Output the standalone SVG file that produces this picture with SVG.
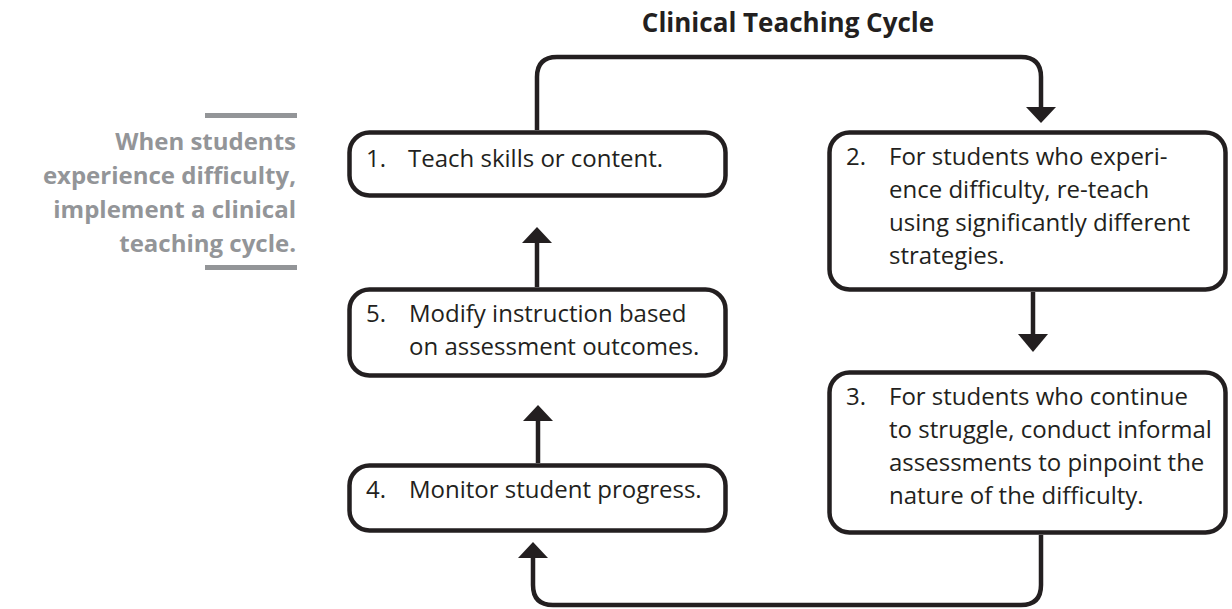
<svg xmlns="http://www.w3.org/2000/svg" width="1232" height="609" viewBox="0 0 1232 609">
<defs>
<style>
.box{fill:#fff;stroke:#231f20;stroke-width:4.5}
.t{font-family:"Open Sans","Noto Sans",sans-serif;font-size:24px;fill:#231f20}
.ttl{font-family:"Open Sans","Noto Sans",sans-serif;font-size:26px;font-weight:bold;fill:#231f20}
.side{font-family:"Open Sans","Noto Sans",sans-serif;font-size:24px;font-weight:bold;fill:#939598;text-anchor:end}
.ln{fill:none;stroke:#231f20;stroke-width:4.5}
.ah{fill:#231f20}
.bar{fill:#939598}
</style>
</defs>
<rect width="1232" height="609" fill="#fff"/>
<text class="ttl" x="788" y="32" text-anchor="middle">Clinical Teaching Cycle</text>
<g id="sidebar">
<rect class="bar" x="205" y="113" width="92" height="5"/>
<text class="side" x="296" y="150">When students</text>
<text class="side" x="296" y="184">experience difficulty,</text>
<text class="side" x="296" y="218">implement a clinical</text>
<text class="side" x="296" y="252">teaching cycle.</text>
<rect class="bar" x="205" y="265" width="92" height="5"/>
</g>
<g id="connectors">
<path class="ln" d="M537,130 V77 Q537,57 557,57 H1021 Q1041,57 1041,77 V108"/>
<polygon class="ah" points="1026,107 1056,107 1041,123"/>
<path class="ln" d="M1033,292 V335"/>
<polygon class="ah" points="1018,334 1048,334 1033,352"/>
<path class="ln" d="M1041,535 V585 Q1041,605 1021,605 H553 Q533,605 533,585 V556"/>
<polygon class="ah" points="518,558 548,558 533,542"/>
<path class="ln" d="M538,463 V420"/>
<polygon class="ah" points="523,421 553,421 538,405"/>
<path class="ln" d="M537,287 V242"/>
<polygon class="ah" points="522,243 552,243 537,227"/>
</g>
<g id="node1">
<rect class="box" x="349.5" y="132.5" width="376" height="63" rx="20"/>
<text class="t" x="366" y="167">1.</text>
<text class="t" x="408" y="167">Teach skills or content.</text>
</g>
<g id="node2">
<rect class="box" x="829.5" y="132.5" width="396" height="157" rx="20"/>
<text class="t" x="846" y="165">2.</text>
<text class="t" x="889" y="165">For students who experi-</text>
<text class="t" x="889" y="198">ence difficulty, re-teach</text>
<text class="t" x="889" y="231">using significantly different</text>
<text class="t" x="889" y="264">strategies.</text>
</g>
<g id="node3">
<rect class="box" x="829.5" y="372.5" width="396" height="160" rx="20"/>
<text class="t" x="846" y="405">3.</text>
<text class="t" x="889" y="405">For students who continue</text>
<text class="t" x="889" y="438">to struggle, conduct informal</text>
<text class="t" x="889" y="471">assessments to pinpoint the</text>
<text class="t" x="889" y="504">nature of the difficulty.</text>
</g>
<g id="node5">
<rect class="box" x="349.5" y="289.5" width="376" height="86" rx="20"/>
<text class="t" x="366" y="322">5.</text>
<text class="t" x="409" y="322">Modify instruction based</text>
<text class="t" x="409" y="355">on assessment outcomes.</text>
</g>
<g id="node4">
<rect class="box" x="349.5" y="465.5" width="376" height="65" rx="20"/>
<text class="t" x="366" y="498">4.</text>
<text class="t" x="409" y="498">Monitor student progress.</text>
</g>
</svg>
